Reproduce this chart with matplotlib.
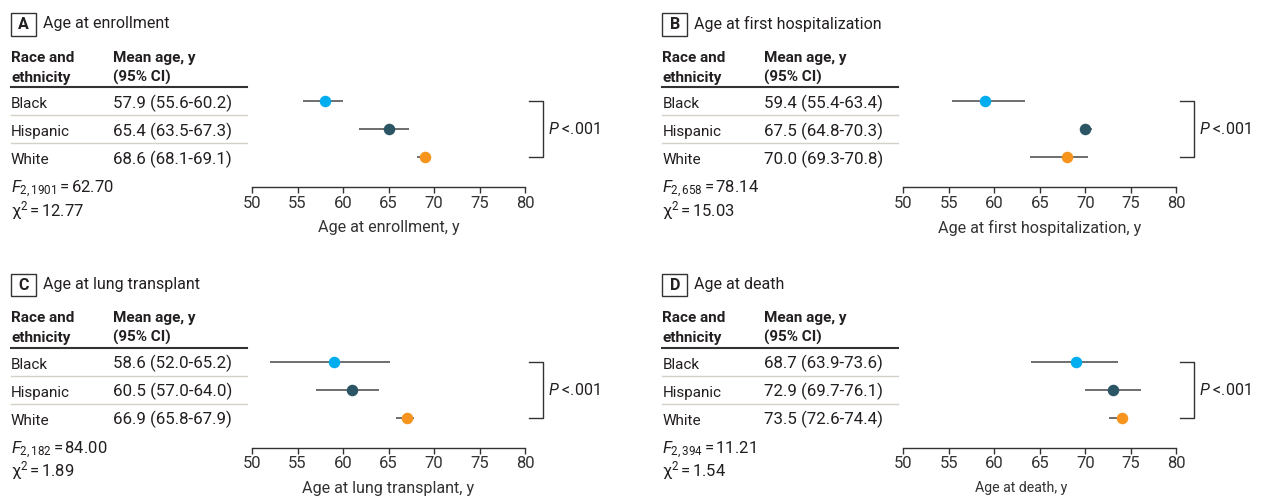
import matplotlib
matplotlib.use('Agg')
import matplotlib.pyplot as plt
import matplotlib.transforms as mtransforms
from matplotlib.patches import Rectangle

plt.rcParams['font.family'] = ['Roboto', 'DejaVu Sans']
plt.rcParams['mathtext.fontset'] = 'custom'
plt.rcParams['mathtext.rm'] = 'Roboto'
plt.rcParams['mathtext.it'] = 'Roboto:italic'

# data
groups = ['Black', 'Hispanic', 'White']
letters = ['A', 'B', 'C', 'D']
titles = ['Age at enrollment', 'Age at first hospitalization',
          'Age at lung transplant', 'Age at death']
xlabels = ['Age at enrollment, y', 'Age at first hospitalization, y',
           'Age at lung transplant, y', 'Age at death, y']

# table values (mean, lower, upper)
tab_mean = [[57.9, 65.4, 68.6], [59.4, 67.5, 70.0], [58.6, 60.5, 66.9], [68.7, 72.9, 73.5]]
tab_lo = [[55.6, 63.5, 68.1], [55.4, 64.8, 69.3], [52.0, 57.0, 65.8], [63.9, 69.7, 72.6]]
tab_hi = [[60.2, 67.3, 69.1], [63.4, 70.3, 70.8], [65.2, 64.0, 67.9], [73.6, 76.1, 74.4]]

# plotted markers as drawn in the figure
pt_mean = [[58.0, 65.0, 69.0], [59.0, 70.0, 68.0], [59.0, 61.0, 67.0], [69.0, 73.0, 74.0]]
pt_lo = [[55.6, 61.8, 68.1], [55.4, 69.7, 63.9], [52.0, 57.0, 65.8], [64.0, 70.0, 72.6]]
pt_hi = [[60.0, 67.3, 69.1], [63.4, 70.7, 70.3], [65.2, 64.0, 67.8], [73.6, 76.1, 74.6]]

f_df = ['2,1901', '2,658', '2,182', '2,394']
f_val = ['62.70', '78.14', '84.00', '11.21']
chi_val = ['12.77', '15.03', '1.89', '1.54']
p_text = ['<.001', '<.001', '<.001', '<.001']

colors = ['#00aeef', '#2b5464', '#f7941d']
txt = '#231f20'
W, H = 1262, 496
offsets = [(0, 0), (651.3, 0), (0, 260.5), (651.3, 260.5)]
xlab_size = [11.6, 11.6, 11.6, 10.2]
xlab_pos = [0.5, 0.5, 0.5, 0.43]

fig = plt.figure(figsize=(W / 100, H / 100), dpi=100)


def px(x):
    return x / W


def py(y):
    return 1 - y / H


for i in range(4):
    ox, oy = offsets[i]
    ax = fig.add_axes([px(252 + ox), py(187.3 + oy), 273 / W, 100 / H])
    ax.set_xlim(50, 80)
    ax.set_ylim(3.07, -0.5)
    ax.patch.set_visible(False)
    for s in ['top', 'left', 'right']:
        ax.spines[s].set_visible(False)
    ax.spines['bottom'].set_color('#333333')
    ax.spines['bottom'].set_linewidth(1.0)
    ax.set_yticks([])
    ax.set_xticks(range(50, 81, 5))
    ax.tick_params(axis='x', direction='out', length=4, width=1.0, color='#333333',
                   labelsize=12, labelcolor='#333333', pad=2)
    ax.set_xlabel(xlabels[i], fontsize=xlab_size[i], color='#333333', labelpad=7)
    ax.xaxis.label.set_x(xlab_pos[i])

    rows = range(len(groups))
    ax.hlines(rows, pt_lo[i], pt_hi[i], color='#555555', lw=1.2, zorder=2)
    for r in rows:
        ax.plot(pt_mean[i][r], r, 'o', ms=8.3, color=colors[r], mec='none', zorder=3)

    trans = mtransforms.blended_transform_factory(fig.transFigure, ax.transData)

    # panel letter box and title
    fig.add_artist(Rectangle((px(11 + ox), py(35.7 + oy)), 25 / W, 22.4 / H,
                             transform=fig.transFigure, fill=False, ec='#333333', lw=1.0))
    fig.text(px(23.5 + ox), py(24.5 + oy), letters[i], fontsize=11.5, fontweight='bold',
             color=txt, ha='center', va='center')
    fig.text(px(43 + ox), py(23.5 + oy), titles[i], fontsize=11.5, color=txt,
             ha='left', va='center')

    # table header
    for col_x, lines in [(11, ['Race and', 'ethnicity']), (113, ['Mean age, y', '(95% CI)'])]:
        ax.text(px(col_x + ox), -1.41, lines[0], transform=trans, fontsize=11,
                fontweight='bold', color=txt, va='baseline')
        ax.text(px(col_x + ox), -0.70, lines[1], transform=trans, fontsize=11,
                fontweight='bold', color=txt, va='baseline')
    ax.plot([px(11 + ox), px(247 + ox)], [-0.5, -0.5], transform=trans, color='#333333',
            lw=1.5, clip_on=False)
    for yl in [0.5, 1.5]:
        ax.plot([px(11 + ox), px(247 + ox)], [yl, yl], transform=trans, color='#d3d1c8',
                lw=1.0, clip_on=False)

    for r in rows:
        ax.text(px(11 + ox), r + 0.24, groups[r], transform=trans, fontsize=11, color=txt,
                va='baseline')
        s = '%.1f (%.1f-%.1f)' % (tab_mean[i][r], tab_lo[i][r], tab_hi[i][r])
        ax.text(px(113 + ox), r + 0.24, s, transform=trans, fontsize=12.2, color=txt,
                va='baseline')

    # stats
    fig.text(px(11 + ox), py(193.5 + oy), r'$F_{%s}\,$=$\,$%s' % (f_df[i], f_val[i]),
             fontsize=12, color=txt, va='baseline')
    fig.text(px(11 + ox), py(216 + oy), r'χ$^{2}\,$=$\,$%s' % chi_val[i], fontsize=12,
             color=txt, va='baseline')

    # bracket and P value
    bx0, bx1 = px(529 + ox), px(542.7 + ox)
    ax.plot([bx0, bx1, bx1, bx0], [0, 0, 2, 2], transform=trans, color='#333333', lw=1.0,
            clip_on=False)
    ax.text(px(548 + ox), 1, r'$P$ %s' % p_text[i], transform=trans, fontsize=11.5,
            color=txt, va='center')

fig.savefig('out.png', dpi=100)
